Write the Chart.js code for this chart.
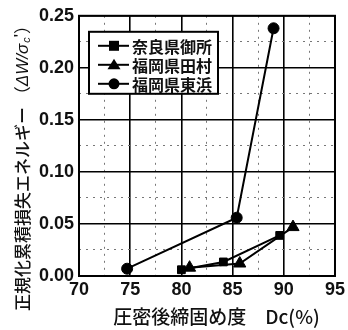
<!DOCTYPE html>
<html><head><meta charset="utf-8">
<script src="https://cdn.jsdelivr.net/npm/chart.js@4"></script>
<style>html,body{margin:0;padding:0;background:#fff}#wrap{width:348px;height:330px}</style>
</head><body><div id="wrap"><canvas id="c" width="348" height="330"></canvas></div>
<script>
const seriesNames = ['奈良県御所', '福岡県田村', '福岡県東浜'];
const goseX = [80.0, 84.1, 89.6];
const goseY = [0.006, 0.0135, 0.039];
const tamuraX = [80.8, 85.7, 90.9];
const tamuraY = [0.008, 0.012, 0.047];
const higashiX = [74.7, 85.4, 89.0];
const higashiY = [0.007, 0.056, 0.238];
const xTickLabels = [70, 75, 80, 85, 90, 95];
const yTickLabels = [0.00, 0.05, 0.10, 0.15, 0.20, 0.25];
const pointStyles = ['rect', 'triangle', 'circle'];
const yTitleParts = ['正規化累積損失エネルギー', ' （', 'ΔW/σ', 'c', "'", '）'];

function pts(xs, ys) { return xs.map((x, i) => ({ x: x, y: ys[i] })); }
function isMajor(v, list) { return list.some(t => Math.abs(t - v) < 1e-6); }

const TXT = '#111';
const tickFont = { family: 'Liberation Sans', size: 18, weight: 'bold' };

const frame = {
  id: 'frame',
  afterDatasetsDraw(chart) {
    const a = chart.chartArea, c = chart.ctx;
    c.save();
    c.strokeStyle = '#000'; c.lineWidth = 2;
    c.strokeRect(a.left, a.top, a.right - a.left, a.bottom - a.top);
    c.restore();
  },
  afterDraw(chart) {
    const a = chart.chartArea, c = chart.ctx;
    // legend box
    const x0 = a.left + 10, y0 = a.top + 16, w = 129, h = 62;
    c.save();
    c.fillStyle = '#fff'; c.fillRect(x0, y0, w, h);
    c.strokeStyle = '#000'; c.lineWidth = 2; c.strokeRect(x0, y0, w, h);
    c.font = 'bold 16px "Noto Sans CJK JP"';
    c.textBaseline = 'middle';
    chart.data.datasets.forEach((ds, i) => {
      const yy = y0 + 14 + i * 19;
      c.strokeStyle = '#000'; c.lineWidth = 2;
      c.beginPath(); c.moveTo(x0 + 9, yy); c.lineTo(x0 + 40, yy); c.stroke();
      c.fillStyle = '#000';
      const cx = x0 + 25;
      c.beginPath();
      if (ds.pointStyle === 'rect') { c.rect(cx - 5, yy - 5, 10, 10); }
      else if (ds.pointStyle === 'triangle') { c.moveTo(cx, yy - 6); c.lineTo(cx + 6.5, yy + 4.5); c.lineTo(cx - 6.5, yy + 4.5); c.closePath(); }
      else { c.arc(cx, yy, 5.5, 0, Math.PI * 2); }
      c.fill();
      c.fillStyle = TXT;
      c.fillText(ds.label, x0 + 43, yy + 1);
    });
    c.restore();
    // y-axis title (rotated, drawn bottom -> top)
    c.save();
    c.translate(23, 311);
    c.rotate(-Math.PI / 2);
    c.fillStyle = TXT;
    c.textBaseline = 'middle';
    const fonts = ['500 17px "Noto Sans CJK JP"', '17px "Noto Sans CJK JP"', 'italic 17px "Liberation Sans"',
                   'italic 11px "Liberation Sans"', '17px "Liberation Sans"', '17px "Noto Sans CJK JP"'];
    const dy = [0, 0, 0, 4, -2, 0];
    let x = 0;
    yTitleParts.forEach((t, i) => {
      c.font = fonts[i];
      c.fillText(t, x, dy[i]);
      x += c.measureText(t).width + (i === 2 ? 1 : 0);
    });
    c.restore();
  }
};

new Chart(document.getElementById('c'), {
  type: 'line',
  data: {
    datasets: [
      { label: seriesNames[0], data: pts(goseX, goseY), pointStyle: pointStyles[0], pointRadius: 5.5 },
      { label: seriesNames[1], data: pts(tamuraX, tamuraY), pointStyle: pointStyles[1], pointRadius: 7 },
      { label: seriesNames[2], data: pts(higashiX, higashiY), pointStyle: pointStyles[2], pointRadius: 5.5 }
    ].map(d => Object.assign(d, { borderColor: '#000', backgroundColor: '#000', borderWidth: 2, pointBorderWidth: 1, tension: 0, fill: false }))
  },
  options: {
    responsive: false, animation: false,
    layout: { padding: { left: 0, right: 10, top: 12, bottom: 2 } },
    plugins: { legend: { display: false }, tooltip: { enabled: false } },
    scales: {
      x: {
        type: 'linear', min: 70, max: 95,
        ticks: { stepSize: 2.5, color: TXT, font: tickFont, padding: 3, maxRotation: 0, autoSkip: false,
          callback: v => isMajor(v, xTickLabels) ? String(v) : '' },
        grid: { drawTicks: false,
          color: ctx => isMajor(ctx.tick ? ctx.tick.value : 0, xTickLabels) ? '#000' : '#777',
          lineWidth: ctx => isMajor(ctx.tick ? ctx.tick.value : 0, xTickLabels) ? 1.6 : 1 },
        border: { display: false, dash: ctx => (ctx.tick && !isMajor(ctx.tick.value, xTickLabels)) ? [2, 5] : [] },
        title: { display: true, text: '　圧密後締固め度　Dc(%)', color: TXT, font: { family: 'Noto Sans CJK JP', size: 19, weight: '500' }, padding: { top: 0, bottom: 0 } },
        afterFit: s => { s.height = 52; }
      },
      y: {
        type: 'linear', min: 0, max: 0.25,
        ticks: { stepSize: 0.025, color: TXT, font: tickFont, padding: 5, autoSkip: false,
          callback: v => isMajor(v, yTickLabels) ? v.toFixed(2) : '' },
        grid: { drawTicks: false,
          color: ctx => isMajor(ctx.tick ? ctx.tick.value : 0, yTickLabels) ? '#000' : '#777',
          lineWidth: ctx => isMajor(ctx.tick ? ctx.tick.value : 0, yTickLabels) ? 1.6 : 1 },
        border: { display: false, dash: ctx => (ctx.tick && !isMajor(ctx.tick.value, yTickLabels)) ? [2, 5] : [] },
        title: { display: false },
        afterFit: s => { s.width = 79; }
      }
    }
  },
  plugins: [frame]
});
</script>
</body></html>
